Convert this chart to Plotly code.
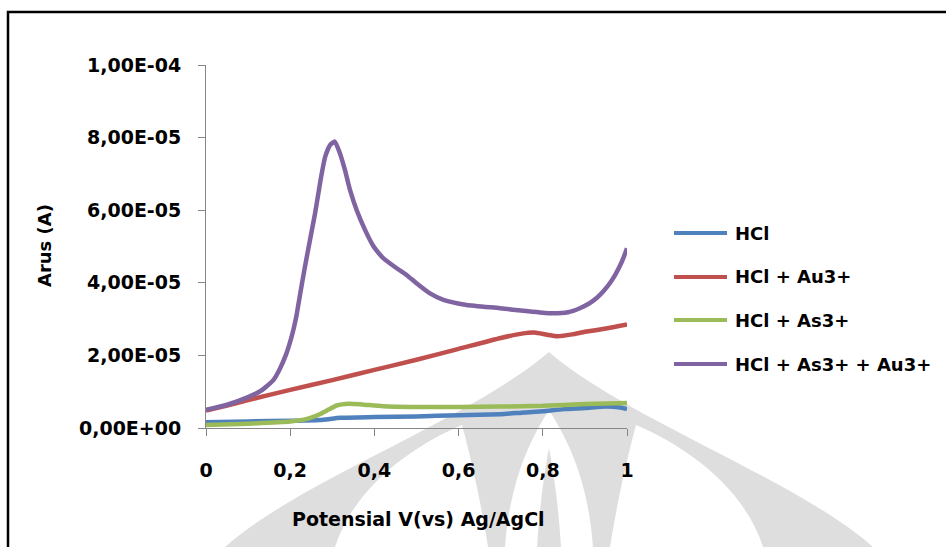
import plotly.graph_objects as go

# ---- data (current in units of 1e-5 A, potential in V vs Ag/AgCl) ----
series_names = ["HCl", "HCl + Au3+", "HCl + As3+", "HCl + As3+ + Au3+"]
series_colors = ["#4F81BD", "#C0504D", "#9BBB59", "#8064A2"]

hcl_v = [0.00, 0.10, 0.20, 0.27, 0.32, 0.40, 0.50, 0.60, 0.70, 0.75, 0.80, 0.85, 0.90, 0.95, 0.98, 1.00]
hcl_i = [0.16, 0.18, 0.20, 0.22, 0.28, 0.30, 0.32, 0.35, 0.38, 0.42, 0.46, 0.52, 0.55, 0.59, 0.57, 0.52]

au_v = [0.00, 0.05, 0.10, 0.20, 0.30, 0.40, 0.50, 0.60, 0.70, 0.75, 0.78, 0.81, 0.835, 0.87, 0.90, 0.95, 1.00]
au_i = [0.48, 0.62, 0.77, 1.05, 1.32, 1.60, 1.88, 2.18, 2.48, 2.60, 2.63, 2.57, 2.53, 2.58, 2.65, 2.74, 2.85]

as_v = [0.00, 0.10, 0.20, 0.24, 0.27, 0.29, 0.31, 0.34, 0.37, 0.42, 0.50, 0.60, 0.70, 0.80, 0.90, 1.00]
as_i = [0.08, 0.12, 0.18, 0.25, 0.38, 0.50, 0.62, 0.67, 0.65, 0.60, 0.58, 0.58, 0.59, 0.61, 0.66, 0.69]

asau_v = [0.00, 0.05, 0.10, 0.13, 0.16, 0.175, 0.19, 0.20, 0.207, 0.215, 0.223, 0.235, 0.247, 0.259,
          0.267, 0.275, 0.283, 0.295, 0.306, 0.318, 0.330, 0.342, 0.358, 0.378, 0.397, 0.41, 0.421,
          0.453, 0.477, 0.500, 0.532, 0.564, 0.619, 0.698, 0.760, 0.817, 0.86, 0.888, 0.91,
          0.928, 0.945, 0.96, 0.972, 0.983, 0.992, 1.00]
asau_i = [0.50, 0.64, 0.85, 1.02, 1.32, 1.62, 2.02, 2.38, 2.68, 3.10, 3.65, 4.44, 5.18, 5.91,
          6.47, 7.02, 7.47, 7.80, 7.89, 7.57, 7.11, 6.56, 6.00, 5.45, 5.02, 4.82, 4.68,
          4.40, 4.21, 3.99, 3.71, 3.53, 3.39, 3.30, 3.22, 3.16, 3.19, 3.30, 3.43,
          3.58, 3.78, 4.00, 4.22, 4.46, 4.70, 4.95]

x_ticks = [0, 0.2, 0.4, 0.6, 0.8, 1]
x_tick_text = ["0", "0,2", "0,4", "0,6", "0,8", "1"]
y_ticks = [0, 2e-5, 4e-5, 6e-5, 8e-5, 1e-4]
y_tick_text = ["0,00E+00", "2,00E-05", "4,00E-05", "6,00E-05", "8,00E-05", "1,00E-04"]

W, H = 946, 547
FONT = "DejaVu Sans"


def px(x):
    return x / W


def py(y):
    return 1 - y / H


fig = go.Figure()
all_v = [hcl_v, au_v, as_v, asau_v]
all_i = [hcl_i, au_i, as_i, asau_i]
for name, color, v, i in zip(series_names, series_colors, all_v, all_i):
    fig.add_trace(go.Scatter(
        x=v, y=[c * 1e-5 for c in i], mode="lines", name=name,
        line=dict(color=color, width=4.5, shape="spline", smoothing=0.5),
        showlegend=False,
    ))

# faint watermark emblem behind the plot
wm = "#dedede"


def path(cmds):
    out = []
    for tok in cmds:
        if isinstance(tok, str):
            out.append(tok)
        else:
            out.append(f"{px(tok[0]):.4f},{py(tok[1]):.4f}")
    return " ".join(out)


shapes = []
dome = path(["M", (225, 547), "C", (300, 480), (470, 420), (549, 352),
             "C", (628, 420), (798, 480), (873, 547), "Z"])
petal_l = path(["M", (335, 547), "C", (355, 485), (415, 445), (462, 425),
                "C", (474, 470), (482, 510), (488, 547), "Z"])
petal_r = path(["M", (763, 547), "C", (743, 485), (683, 445), (636, 425),
                "C", (624, 470), (616, 510), (610, 547), "Z"])
centre = path(["M", (505, 547), "C", (510, 480), (530, 440), (549, 410),
               "C", (568, 440), (588, 480), (593, 547), "Z"])
spike = path(["M", (537, 547), "C", (540, 500), (545, 470), (549, 448),
              "C", (553, 470), (558, 500), (561, 547), "Z"])
for p, c in [(dome, wm), (petal_l, "white"), (petal_r, "white"), (centre, "white"), (spike, wm)]:
    shapes.append(dict(type="path", path=p, xref="paper", yref="paper",
                       fillcolor=c, line=dict(width=0), layer="below"))

# outer frame
shapes.append(dict(type="rect", xref="paper", yref="paper",
                   x0=px(8), y0=py(560), x1=px(960), y1=py(12),
                   line=dict(color="black", width=2.5)))

# legend drawn as line samples + labels
annotations = []
legend_rows = [233, 277, 320, 364]
for name, color, ry in zip(series_names, series_colors, legend_rows):
    shapes.append(dict(type="line", xref="paper", yref="paper",
                       x0=px(674), x1=px(727), y0=py(ry), y1=py(ry),
                       line=dict(color=color, width=4)))
    annotations.append(dict(text=f"<b>{name}</b>", xref="paper", yref="paper",
                            x=px(733), y=py(ry), xanchor="left", yanchor="middle",
                            showarrow=False, font=dict(family=FONT, size=18, color="black")))

annotations.append(dict(text="<b>Arus (A)</b>", xref="paper", yref="paper",
                        x=px(45), y=py(246), textangle=-90, showarrow=False,
                        xanchor="center", yanchor="middle",
                        font=dict(family=FONT, size=18, color="black")))
annotations.append(dict(text="<b>Potensial V(vs) Ag/AgCl</b>", xref="paper", yref="paper",
                        x=px(418), y=py(519), showarrow=False,
                        xanchor="center", yanchor="middle",
                        font=dict(family=FONT, size=19, color="black")))

fig.update_layout(
    width=W, height=H,
    margin=dict(l=0, r=0, t=0, b=0, pad=0),
    paper_bgcolor="white", plot_bgcolor="rgba(0,0,0,0)",
    shapes=shapes, annotations=annotations,
    xaxis=dict(domain=[px(206), px(627)], range=[0, 1], automargin=False,
               tickvals=x_ticks, ticktext=x_tick_text,
               showgrid=False, zeroline=False, showline=True, linecolor="#868686", linewidth=1,
               ticks="outside", ticklen=7, tickcolor="#868686", ticklabelstandoff=18,
               tickfont=dict(family=FONT, size=19, color="black", weight="bold")),
    yaxis=dict(domain=[py(428), py(65)], range=[0, 1e-4], automargin=False,
               tickvals=y_ticks, ticktext=y_tick_text,
               showgrid=False, zeroline=False, showline=True, linecolor="#868686", linewidth=1,
               ticks="outside", ticklen=7, tickcolor="#868686", ticklabelstandoff=13,
               tickfont=dict(family=FONT, size=19, color="black", weight="bold")),
)

fig.write_html("out.html")
